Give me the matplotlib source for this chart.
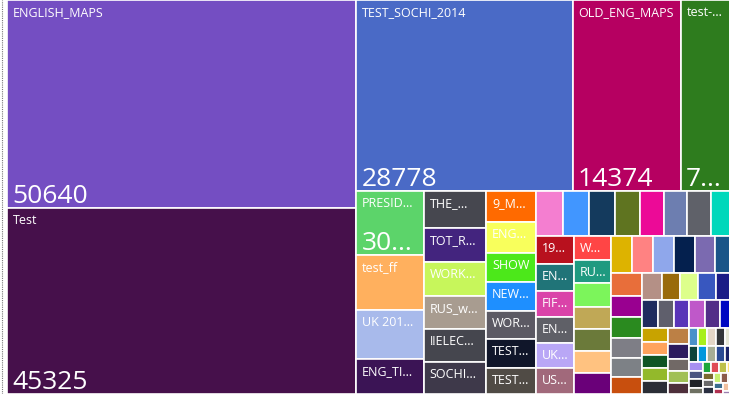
import matplotlib.pyplot as plt
from matplotlib.patches import Rectangle
from matplotlib.lines import Line2D

# categories (labels as they appear in the tiles), values and tile colours
names = [
    "ENGLISH_MAPS", "Test", "TEST_SOCHI_2014", "OLD_ENG_MAPS", "test-...",
    "PRESID...", "test_ff", "UK 201...", "ENG_TI...",
    "THE_...", "TOT_R...", "WORK...", "RUS_w...", "!!ELEC...", "SOCHI...",
    "9_M...", "ENG...", "SHOW", "NEW...", "WOR...", "TEST...", "TEST...",
    "", "", "", "", "", "", "", "",
    "19...", "EN...", "FIF...", "EN...", "UK...", "US...",
    "W...", "RU...", "", "", "", "", "",
]
values = [
    50640, 45325, 28778, 14374, 7050,
    3050, 2580, 2310, 1650,
    1620, 1490, 1470, 1440, 1405, 1400,
    1085, 1080, 1015, 1005, 1000, 990, 915,
    850, 825, 812, 780, 770, 745, 740, 735,
    730, 700, 680, 676, 674, 671,
    612, 606, 600, 578, 573, 556, 549,
    545, 542, 540, 532, 508, 500,
    490, 464, 462, 434, 423, 365,
    360, 350, 340, 335, 331,
    312, 310, 306, 300, 294, 285,
    238, 236, 234, 232, 230,
    228, 222, 177, 177, 156,
    116, 114, 112, 110, 108,
    106, 104, 102, 100, 98,
    86, 84, 82,
    64, 62, 60, 58,
    56, 54, 52, 50, 48, 46, 44, 40, 36, 32, 28, 24,
]
colors = [
    "#744EC2", "#46104B", "#4A6AC6", "#B60061", "#2E7C1E",
    "#5CD46A", "#FFB05E", "#A8BAEB", "#3B1455",
    "#46474F", "#43247E", "#C7F65B", "#A89C90", "#45464E", "#3E394A",
    "#FF6A00", "#F8FF5C", "#4CE81A", "#1E8FFF", "#5C5A64", "#10162A", "#504B45",
    "#F47ED0", "#4196FF", "#143A5D", "#5F7420", "#EC0A97", "#6D7EB0", "#5F6169", "#00D8BB",
    "#B8111E", "#207478", "#DA43A9", "#5F6067", "#B9A7F6", "#A1697B",
    "#FF4545", "#1F9A80", "#7CF55B", "#C0A856", "#6B7A3A", "#FFC280", "#6A0079",
    "#DDB300", "#FF8282", "#8FA7EB", "#04204E", "#7B6AB0", "#1A5588",
    "#E86E3A", "#990090", "#2A8A1F", "#7E7E86", "#7D8186", "#C84F0E",
    "#B49086", "#996A0B", "#DDFF8B", "#3857BF", "#1B1C86",
    "#1E2B5E", "#5F5F6C", "#5934B8", "#BF58C9", "#522E88", "#0008C2",
    "#C8A300", "#FFA35D", "#0F5424", "#93B92B", "#2B2E36",
    "#BC8045", "#2C1B5E", "#716966", "#A1C056", "#4E2F3B",
    "#4A91C9", "#A8EF1B", "#E3D5C6", "#333539", "#E6E6D6",
    "#0C4339", "#0097DC", "#A7AD95", "#2A4A93", "#1A2267",
    "#A68FF1", "#4A5480", "#1F2227",
    "#6E7062", "#1BA63B", "#E04B56", "#BEC04B",
    "#FFE17B", "#7B6B30", "#6A6A6A", "#2A2F40", "#C8F071", "#8B5B4B",
    "#D8D8D8", "#3A6B8C", "#B03050", "#F0C0A0", "#505A30", "#9A7FB0",
]
names = names + [""] * (len(values) - len(names))

PHI = (1 + 5 ** 0.5) / 2


def squarify(vals, x0, y0, x1, y1, ratio=PHI):
    # squarified treemap (golden-ratio variant), y grows downward
    rects = [None] * len(vals)
    total = float(sum(vals))
    n = len(vals)
    i0 = i1 = 0
    while i0 < n:
        dx, dy = x1 - x0, y1 - y0
        s = vals[i1]
        i1 += 1
        lo = hi = s
        alpha = max(dy / dx, dx / dy) / (total * ratio)
        beta = s * s * alpha
        best = max(hi / beta, beta / lo)
        while i1 < n:
            v = vals[i1]
            s2 = s + v
            lo2, hi2 = min(lo, v), max(hi, v)
            beta = s2 * s2 * alpha
            r = max(hi2 / beta, beta / lo2)
            if r > best:
                break
            best, s, lo, hi = r, s2, lo2, hi2
            i1 += 1
        if dx < dy:
            yb = y0 + dy * s / total
            xx = x0
            for i in range(i0, i1):
                w = dx * vals[i] / s
                rects[i] = (xx, y0, w, yb - y0)
                xx += w
            y0 = yb
        else:
            xb = x0 + dx * s / total
            yy = y0
            for i in range(i0, i1):
                h = dy * vals[i] / s
                rects[i] = (x0, yy, xb - x0, h)
                yy += h
            x0 = xb
        total -= s
        i0 = i1
    return rects


FW, FH = 729, 394
X0, X1 = 7, 734
W, H = X1 - X0, FH

fig = plt.figure(figsize=(FW / 100, FH / 100), dpi=100)
ax = fig.add_axes([X0 / FW, 0, W / FW, 1])
ax.set_xlim(0, W)
ax.set_ylim(H, 0)
ax.axis("off")

rects = squarify(values, 0, 0, W, H)
renderer = fig.canvas.get_renderer()

font = "Open Sans"


def fit(txt, maxw, size):
    # cut text with "..." until it fits the tile width
    t = ax.text(0, 0, txt, fontsize=size, family=font)
    s = txt
    while True:
        t.set_text(s)
        if t.get_window_extent(renderer).width <= maxw or len(s) <= 1:
            break
        s = s.rstrip(".")[:-1] + "..."
        if s == "...":
            break
    t.remove()
    return s


for (x, y, w, h), v, c, nm in zip(rects, values, colors, names):
    ax.add_patch(Rectangle((x, y), w, h, facecolor=c, edgecolor="white", linewidth=1.2))
    if nm:
        ax.text(x + 5.5, y + 6, nm, color="white", fontsize=9.0, family=font,
                va="top", ha="left")
    if h >= 60 and w >= 40:
        lbl = fit(str(v), w - 12, 19)
        ax.text(x + 5, y + h - 5, lbl, color="white", fontsize=19, family=font,
                va="baseline", ha="left")

# dotted focus border on the left
fig.add_artist(Line2D([1.5 / FW, 1.5 / FW], [0, 1], transform=fig.transFigure,
                      color="#777777", linestyle=(0, (1, 1)), linewidth=0.8))

fig.savefig("out.png", dpi=100)
